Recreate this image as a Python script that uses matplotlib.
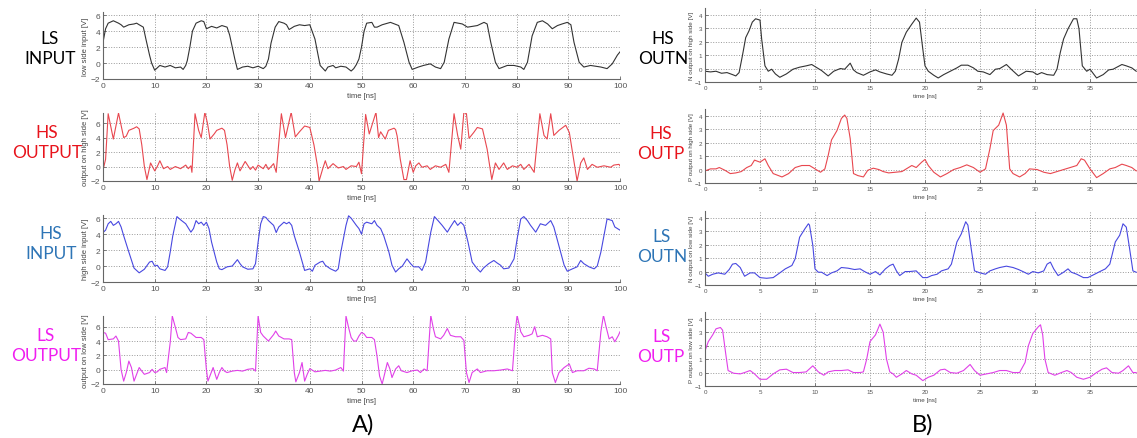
import matplotlib
matplotlib.use("Agg")
import matplotlib.pyplot as plt

plt.rcParams["font.family"] = "Liberation Sans"

# ---------------- datos ----------------
# panel A: 0..100 ns
ls_in_t = [0, 0.5, 1, 2, 3, 3.5, 4, 5, 6, 6.5, 7, 7.8, 8.3, 9, 9.4, 10, 10.5, 11, 12, 13, 14, 15, 15.5,
           16, 16.3, 16.8, 17.3, 18, 19, 19.5, 20, 21, 22, 23, 24, 24.5, 25, 25.5, 26, 27, 28, 29, 30,
           31, 31.5, 32, 32.5, 33.3, 34, 35, 35.5, 36, 37, 38, 39, 40, 41, 41.6, 42, 43, 43.5, 44.5,
           45, 46, 47, 48, 48.5, 49, 49.5, 50, 50.5, 51, 52, 52.5, 53, 54, 55.6, 57.2, 58.2, 59.2,
           59.8, 61, 62, 63.3, 64.3, 65.3, 66, 66.9, 67.9, 69.5, 70.5, 72.4, 73.7, 74.3, 75, 75.9,
           76.6, 78.2, 79.5, 80.8, 81.4, 82.1, 83, 84, 85, 86, 86.9, 87.9, 88.8, 89.8, 90.5, 91.1,
           92.1, 93, 94.3, 96.3, 97.5, 98.5, 99.5, 100]
ls_in_v = [2.6, 4.3, 5.0, 5.3, 5.0, 4.8, 4.5, 4.8, 4.9, 5.0, 4.8, 4.5, 3.0, 1.0, 0.0, -0.9, -0.6, -0.3,
           -0.5, -0.3, -0.6, -0.5, -0.8, -0.3, 0.3, 2.0, 4.0, 5.0, 5.3, 5.2, 4.3, 4.6, 4.4, 4.7, 4.5,
           3.5, 2.0, 0.5, -0.8, -0.5, -0.4, -0.6, -0.4, -0.7, -0.4, 0.5, 2.5, 4.5, 5.2, 5.0, 4.8, 4.2,
           4.6, 4.8, 4.7, 4.8, 3.0, 1.0, -0.3, -1.0, -0.5, -0.3, -0.6, -0.4, -0.5, -1.0, -0.7, -0.2,
           0.5, 2.0, 4.0, 5.0, 5.1, 4.5, 4.5, 4.8, 5.1, 4.7, 2.6, 0.1, -0.8, -0.5, -0.3, -0.1, -0.5,
           -0.7, 0.1, 3.0, 5.1, 4.9, 4.5, 4.7, 5.1, 4.9, 2.6, 0.1, -0.7, -0.3, -0.3, -0.5, -0.8, 0.1,
           3.4, 5.1, 5.3, 4.9, 4.3, 4.7, 4.9, 5.1, 4.8, 2.6, 0.1, -0.5, -0.3, -0.5, -0.7, -0.1, 1.0, 1.4]

hs_out_t = [0, 0.5, 1, 2, 3, 4, 4.5, 5, 6, 6.5, 7, 7.5, 8, 8.5, 9.2, 10, 10.5, 11, 11.7, 12.5, 13, 14,
            15, 16, 16.5, 17, 17.2, 17.8, 18.5, 19, 19.7, 20.2, 20.7, 21.5, 22, 23, 23.5, 24, 24.5, 25,
            25.5, 26, 26.5, 27.5, 28.5, 29, 29.5, 30, 31, 31.5, 32, 33, 33.5, 34.5, 35.3, 36.4, 37.2,
            38, 39, 40, 40.8, 41.5, 41.8, 42.5, 43, 43.5, 44.5, 45.5, 46.5, 47, 48, 49, 49.5, 50, 50.8,
            51.5, 52.8, 53.3, 53.7, 54.6, 55.2, 56.3, 56.6, 56.9, 57.5, 58.2, 58.7, 59.4, 60, 60.5,
            61.1, 61.7, 62.7, 63.3, 64.3, 65.3, 66.3, 66.9, 67.9, 68.6, 69.2, 69.8, 70.3, 70.8, 71.7,
            72.4, 73.4, 74.3, 75.2, 75.9, 76.6, 77.5, 78.2, 79.2, 80.1, 80.8, 81.4, 82.4, 83.4, 84.5,
            85.3, 85.9, 86.6, 87.2, 88.2, 89.5, 90.2, 90.8, 91.7, 92.4, 93, 93.7, 94.6, 95.6, 96.9,
            98.2, 98.8, 99.8, 100]
hs_out_v = [-0.5, 1.0, 7.3, 3.8, 7.4, 4.0, 4.2, 5.0, 5.3, 5.5, 5.2, 3.0, 0.0, -1.8, 0.5, -0.6, 0.0,
            0.8, -0.3, 0.0, -0.4, 0.0, -0.3, 0.2, -0.3, 0.1, -0.8, 7.3, 5.0, 4.0, 7.5, 6.0, 3.8, 4.5,
            5.0, 5.3, 5.0, 3.0, 0.0, -1.9, -0.5, 0.5, -0.6, 0.7, -0.4, 0.0, -0.5, 0.2, -0.3, 0.3, -0.4,
            0.4, -0.8, 7.3, 4.0, 7.5, 4.1, 4.8, 5.6, 5.4, 3.0, 0.0, -2.0, -0.3, 0.8, -0.3, 0.4, -0.2,
            0.0, -0.4, 0.1, 0.0, 0.6, -1.0, 7.2, 4.5, 7.5, 4.0, 4.8, 3.8, 5.0, 5.3, 5.1, 4.2, 1.0,
            -1.8, -1.8, 0.8, -0.8, 0.1, 0.5, -0.1, 0.1, -0.4, 0.1, -0.1, 0.3, -0.8, 7.3, 4.3, 2.4,
            7.5, 7.3, 3.9, 4.7, 5.4, 5.2, 2.4, -1.8, 0.5, -0.4, 0.5, -0.4, 0.1, -0.1, 0.3, -0.4, 0.3,
            -0.8, 7.3, 4.3, 3.8, 7.3, 4.3, 5.0, 5.7, 4.7, 2.0, -2.0, 0.5, 1.2, -0.4, 0.3, -0.1, 0.1,
            -0.1, 0.2, 0.3, 0.1]

hs_in_t = [0, 0.5, 1, 1.5, 2, 2.5, 3, 3.5, 4, 5, 6, 6.5, 7, 8, 9, 9.5, 10, 10.5, 11, 12, 12.5, 13,
           13.5, 14.3, 15, 16, 17, 17.5, 18, 18.5, 19, 19.5, 20, 20.5, 21, 22, 22.5, 23, 24, 25, 26,
           26.5, 27, 28, 29, 29.5, 30, 30.5, 31, 31.5, 32, 33, 33.5, 34, 35, 35.5, 36, 36.5, 37, 38,
           39, 40, 40.5, 41, 42, 42.5, 43, 44, 45, 45.5, 46, 47, 47.5, 48, 49, 49.5, 50, 50.5, 51,
           52, 52.5, 53, 53.7, 54.3, 55.3, 55.9, 56.6, 57.2, 57.9, 58.8, 59.5, 60.1, 61.1, 61.7,
           62.4, 63.4, 64.1, 64.8, 65.6, 66.6, 67.2, 68, 68.6, 69.2, 69.8, 70.6, 71.4, 72.4, 73,
           73.6, 74.6, 75.6, 76.2, 76.9, 77.5, 78.5, 79.5, 80.1, 80.8, 81.4, 82.1, 82.7, 83.7, 84.6,
           85.6, 86.6, 87.2, 88.2, 89.2, 89.8, 90.8, 91.7, 92.4, 93, 94, 95, 95.6, 96.3, 96.9, 97.5,
           98.5, 99, 100]
hs_in_v = [4.2, 4.5, 5.3, 5.6, 5.1, 5.3, 5.6, 4.9, 3.8, 1.75, -0.25, -0.55, -0.85, -0.4, 0.5, 0.6,
           0.0, 0.1, -0.35, -0.55, -0.1, 1.75, 3.8, 6.2, 5.8, 5.3, 4.25, 4.7, 5.7, 5.3, 5.5, 5.1, 5.5,
           4.7, 3.0, 0.5, -0.35, -0.45, -0.1, 0.0, 0.8, 0.3, -0.1, -0.4, -0.35, 0.3, 3.0, 5.3, 6.2,
           6.1, 5.7, 5.1, 4.2, 4.9, 5.5, 5.3, 5.5, 5.1, 3.8, 1.75, -0.55, -0.35, -0.65, 0.1, 0.5, 0.6,
           0.1, -0.35, -0.65, -0.35, 1.75, 5.1, 6.3, 6.0, 5.1, 4.7, 4.0, 5.3, 5.5, 5.3, 5.7, 5.1, 4.7,
           3.8, 1.75, 0.1, -0.75, -0.35, 0.0, 0.9, 0.3, -0.1, -0.1, -0.55, 0.5, 4.25, 6.2, 5.7, 5.1,
           4.25, 4.9, 5.7, 5.1, 5.5, 5.1, 3.0, 0.5, -0.35, -0.75, -0.25, 0.3, 0.7, 0.4, 0.1, -0.35,
           -0.25, 0.9, 3.4, 5.9, 6.2, 5.7, 5.1, 4.25, 5.3, 5.1, 5.7, 4.9, 2.5, 0.1, -0.65, -0.35,
           -0.1, 0.7, 0.3, -0.1, -0.35, 0.0, 1.75, 3.8, 5.9, 5.7, 4.9, 4.5]

ls_out_t = [0, 0.5, 1, 2, 2.5, 3, 3.5, 4, 4.5, 5, 5.5, 6, 6.5, 7, 7.5, 8, 9, 9.5, 10, 10.5, 11, 12,
            12.3, 13, 13.4, 14, 14.5, 15, 16, 16.5, 17, 18, 19, 19.5, 20, 20.3, 20.8, 21.3, 22, 22.5,
            23, 23.5, 24, 25, 26, 27, 28, 29, 29.5, 30, 30.5, 31, 32, 33, 33.4, 34, 35, 36, 36.5, 37,
            37.3, 38, 38.5, 39, 39.5, 40, 41, 42, 43, 44, 45, 46, 46.5, 47, 47.5, 48, 48.5, 49, 49.5,
            50, 50.5, 51, 52, 52.5, 53, 53.5, 54, 55, 55.5, 55.9, 56.6, 57.2, 57.7, 58.8, 59.8, 60.8,
            61.4, 62.1, 62.7, 63.4, 63.9, 64.3, 65.3, 65.9, 66.6, 67.2, 68.2, 69.2, 69.8, 70.3, 70.8,
            71.4, 72.4, 73, 74.3, 75.6, 76.9, 78.2, 79.2, 79.8, 80.1, 80.8, 81.4, 82.4, 83, 83.5, 84,
            85, 85.9, 86.6, 86.9, 87.5, 88.2, 89.2, 90.2, 90.8, 91.7, 93, 94, 95, 95.6, 96.3, 96.8,
            97.3, 97.9, 98.5, 99, 99.7, 100]
ls_out_v = [5.2, 5.1, 4.2, 4.3, 4.7, 4.0, 0.0, -1.6, -0.4, 1.2, 0.3, -1.6, -0.65, 0.3, -0.2, -0.65,
            -0.4, 0.05, -0.4, -0.3, 0.05, 0.3, -0.4, 3.8, 7.5, 5.9, 4.5, 4.2, 4.3, 5.2, 5.1, 4.5, 4.5,
            4.2, 0.0, -1.6, -0.65, 0.3, -1.35, -0.4, 0.3, -0.2, -0.4, -0.2, -0.1, -0.2, 0.05, 0.15,
            -0.2, 7.5, 5.2, 4.7, 4.0, 4.9, 5.4, 4.7, 4.3, 4.3, 4.2, -0.4, -1.7, -0.4, 1.0, -1.6, -0.65,
            0.15, -0.3, -0.2, -0.1, -0.2, -0.05, 0.3, -0.2, 7.5, 5.9, 4.5, 4.0, 4.0, 4.7, 5.2, 5.0,
            4.5, 4.5, 4.2, 1.9, -0.9, -2.0, 1.0, 0.1, -1.1, 0.1, 0.55, -0.15, -0.4, -0.15, -0.05, -0.4,
            0.1, -0.15, 7.6, 5.75, 4.6, 4.3, 4.8, 5.75, 4.8, 4.6, 4.6, 4.1, -0.4, -1.8, -0.4, 0.1,
            -0.4, -0.15, -0.15, -0.05, 0.1, -0.15, 5.75, 7.6, 5.3, 4.6, 4.8, 5.0, 6.0, 4.6, 4.8, 4.6,
            4.3, -0.4, -1.8, -0.4, 0.3, 0.8, -0.4, -0.15, -0.15, 0.2, 0.1, -0.15, 5.3, 7.6, 6.0, 4.3,
            4.6, 3.9, 4.8, 5.3]

# panel B: 0..40 ns
hs_outn_t = [0, 0.5, 1, 1.5, 2, 2.5, 2.8, 3.1, 3.4, 3.7, 4, 4.3, 4.6, 5, 5.15, 5.45, 5.75, 6.06, 6.4,
             6.8, 7.4, 8, 8.6, 9.2, 9.7, 10.2, 10.6, 11.2, 11.7, 12.3, 12.7, 13.2, 13.5, 13.8, 14.4,
             15, 15.5, 15.9, 16.5, 17, 17.3, 17.6, 17.9, 18.3, 18.8, 19.2, 19.5, 19.8, 20, 20.3,
             20.8, 21.2, 21.7, 22.3, 22.9, 23.3, 23.9, 24.4, 24.8, 25.3, 25.9, 26.4, 26.8, 27.4,
             27.9, 28.5, 28.9, 29.2, 29.8, 30.2, 30.6, 31.1, 31.7, 32, 32.3, 32.6, 33, 33.5, 33.8,
             34, 34.3, 34.7, 35, 35.6, 36.2, 36.7, 37.1, 37.9, 38.3, 38.8, 39.2]
hs_outn_v = [-0.2, -0.25, -0.2, -0.35, -0.3, -0.45, -0.55, -0.3, 0.95, 2.3, 2.8, 3.45, 3.7, 3.6,
             2.2, 0.2, -0.2, -0.05, -0.4, -0.65, -0.4, -0.05, 0.1, 0.2, 0.3, 0.05, -0.15, -0.55,
             -0.2, 0.0, -0.05, 0.4, -0.1, -0.3, -0.5, -0.25, -0.1, -0.25, -0.4, -0.5, -0.2, 0.7,
             1.95, 2.7, 3.3, 3.75, 3.45, 1.45, 0.2, -0.2, -0.5, -0.7, -0.45, -0.2, 0.05, 0.25, 0.25,
             0.05, -0.2, -0.25, -0.45, -0.05, 0.0, 0.3, -0.1, -0.55, -0.35, -0.2, -0.25, -0.45,
             -0.3, -0.45, -0.5, -0.05, 1.2, 2.2, 2.95, 3.7, 3.7, 2.95, 0.2, -0.2, -0.05, -0.7, -0.45,
             -0.1, -0.05, 0.3, 0.2, 0.05, -0.2]

hs_outp_t = [0, 0.5, 1, 1.3, 1.8, 2.3, 2.8, 3.3, 3.8, 4.2, 4.5, 5, 5.45, 5.75, 6.2, 7, 7.6, 8.2, 8.8,
             9.5, 10, 10.5, 10.9, 11.2, 11.5, 12, 12.4, 12.7, 12.9, 13.2, 13.5, 13.9, 14.4, 14.8,
             15.3, 15.8, 16.2, 16.7, 17.3, 17.9, 18.3, 18.8, 19.2, 19.7, 20, 20.3, 20.8, 21.4, 22,
             22.6, 23.2, 23.8, 24.4, 25, 25.5, 25.9, 26.2, 26.7, 27.1, 27.4, 27.7, 28, 28.6, 29.1,
             29.5, 30.2, 30.8, 31.4, 32, 32.6, 33.2, 33.8, 34.2, 34.5, 35, 35.6, 36.2, 36.8, 37.3,
             37.9, 38.3, 38.8, 39.2]
hs_outp_v = [-0.1, 0.05, 0.05, 0.15, -0.05, -0.3, -0.25, -0.15, 0.15, 0.3, 0.7, 0.55, 0.8, 0.3,
             -0.3, -0.55, -0.3, 0.15, 0.3, 0.3, 0.05, -0.2, 0.05, 1.05, 2.2, 2.9, 3.8, 4.05, 3.8,
             2.3, -0.3, -0.45, -0.55, -0.05, 0.1, 0.0, -0.15, -0.25, -0.2, -0.15, 0.05, 0.3, 0.15,
             0.55, 0.75, 0.3, -0.2, -0.55, -0.3, 0.0, 0.15, 0.35, 0.15, -0.2, 0.05, 1.55, 2.9, 3.3,
             4.2, 3.3, 0.05, -0.3, -0.55, -0.3, 0.05, 0.0, -0.2, -0.3, -0.15, 0.0, 0.15, 0.3, 0.8,
             0.7, 0.05, -0.6, -0.3, 0.05, 0.15, 0.4, 0.3, 0.15, -0.1]

ls_outn_t = [0, 0.3, 0.7, 1.2, 1.8, 2.2, 2.5, 2.8, 3.2, 3.6, 4.1, 4.5, 5, 5.6, 6.2, 6.8, 7.3, 7.9,
             8.2, 8.6, 9.1, 9.4, 9.5, 9.8, 10, 10.3, 10.6, 11.1, 11.5, 12, 12.4, 13, 13.6, 14.1,
             14.5, 15, 15.5, 15.9, 16.4, 16.8, 17.1, 17.4, 17.7, 18.2, 18.6, 19.2, 19.5, 19.8, 20.2,
             20.6, 21.1, 21.5, 22.1, 22.4, 22.9, 23.3, 23.7, 23.9, 24.2, 24.5, 25, 25.5, 25.9, 26.4,
             26.8, 27.4, 28, 28.5, 28.9, 29.4, 29.8, 30.3, 30.8, 31.1, 31.4, 31.7, 32.1, 32.6, 33,
             33.3, 33.8, 34.4, 34.8, 35.3, 35.9, 36.4, 36.8, 37.3, 37.7, 38, 38.3, 38.6, 38.9, 39.2]
ls_outn_v = [-0.1, -0.35, -0.2, -0.1, -0.2, 0.15, 0.55, 0.6, 0.3, -0.35, -0.1, -0.1, -0.45, -0.5,
             -0.45, -0.1, 0.2, 0.45, 0.95, 2.55, 3.2, 3.55, 3.45, 1.95, 0.2, -0.05, -0.05, -0.3,
             -0.1, 0.05, 0.3, 0.25, 0.15, 0.2, 0.0, -0.2, 0.0, -0.25, 0.2, 0.45, 0.55, 0.05, -0.3,
             0.0, 0.0, 0.05, -0.2, -0.45, -0.45, -0.3, -0.2, 0.05, 0.2, 0.55, 2.2, 2.8, 3.7, 3.45,
             1.7, 0.05, -0.1, -0.2, 0.05, 0.2, 0.3, 0.4, 0.3, 0.15, 0.0, -0.2, 0.0, -0.1, 0.05, 0.55,
             0.7, 0.2, -0.3, -0.05, 0.2, -0.05, -0.2, -0.45, -0.45, -0.25, 0.0, 0.2, 0.55, 2.2, 2.7,
             3.55, 3.3, 1.7, 0.05, -0.05]

ls_outp_t = [0, 0.3, 0.7, 1, 1.4, 1.6, 1.9, 2.1, 2.6, 3.2, 3.6, 4.1, 4.5, 5, 5.6, 6.2, 6.8, 7.4, 8,
             8.6, 9.2, 9.8, 10.3, 10.8, 11.2, 11.8, 12.4, 13, 13.5, 14.1, 14.4, 14.7, 15, 15.5, 15.8,
             15.9, 16.2, 16.5, 16.8, 17.1, 17.4, 17.9, 18.3, 18.8, 19.2, 19.8, 20.3, 20.8, 21.4,
             21.8, 22.3, 22.9, 23.5, 24.1, 24.5, 25, 25.6, 26.2, 26.8, 27.4, 28, 28.6, 29.1, 29.4,
             29.8, 30.3, 30.5, 30.7, 30.9, 31.2, 31.8, 32.4, 32.9, 33.3, 33.8, 34.4, 35, 35.6, 36.1,
             36.5, 37, 37.6, 38, 38.5, 38.9, 39.2]
ls_outp_v = [1.6, 2.3, 2.8, 3.25, 3.35, 3.15, 1.3, 0.15, -0.05, -0.1, 0.0, 0.15, -0.1, -0.5, -0.5,
             -0.1, 0.2, 0.25, 0.0, 0.0, 0.05, 0.5, 0.05, -0.2, 0.05, 0.15, 0.15, 0.2, 0.0, 0.0, 0.05,
             1.0, 2.3, 2.8, 3.4, 3.6, 3.0, 1.0, 0.05, -0.1, -0.35, -0.1, 0.15, -0.1, -0.2, -0.6,
             -0.35, -0.2, 0.2, 0.25, 0.0, -0.05, 0.15, 0.6, 0.15, -0.2, -0.1, 0.0, 0.15, 0.15, 0.0,
             0.0, 0.75, 2.0, 2.9, 3.4, 3.55, 2.8, 1.0, 0.0, -0.2, 0.0, 0.15, 0.0, -0.35, -0.5, -0.35,
             0.0, 0.25, 0.35, 0.0, -0.05, 0.15, 0.5, 0.0, 0.0]

# ---------------- figura ----------------
W, H = 1137, 439
fig = plt.figure(figsize=(W / 100, H / 100), dpi=100)

def caja(x0, x1, top, bottom):
    # pixeles -> coordenadas de figura
    return [x0 / W, 1 - bottom / H, (x1 - x0) / W, (bottom - top) / H]

def preparar(ax, xlim, ylim, xticks, yticks, ylabel, fs_tick, fs_lab):
    ax.set_xlim(xlim)
    ax.set_ylim(ylim)
    ax.set_xticks(xticks)
    ax.set_yticks(yticks)
    ax.grid(True, linestyle=':', color='#999999', linewidth=0.7)
    for s in ['top', 'right']:
        ax.spines[s].set_visible(False)
    for s in ['left', 'bottom']:
        ax.spines[s].set_color('#666666')
        ax.spines[s].set_linewidth(0.8)
    ax.tick_params(direction='in', length=2, width=0.6, colors='#666666',
                   labelsize=fs_tick, labelcolor='#555555', pad=2)
    ax.set_xlabel('time [ns]', fontsize=fs_lab, color='#444444', labelpad=2)
    ax.set_ylabel(ylabel, fontsize=fs_lab, color='#444444', labelpad=1)

col_negro = '#333333'
col_rojo = '#e8474f'
col_azul = '#4848e0'
col_mag = '#e040e8'

# panel A
filas_A = [(13, 80, (-2, 6.4), ls_in_t, ls_in_v, col_negro, 'low side input [V]'),
           (114, 182, (-2, 7.4), hs_out_t, hs_out_v, col_rojo, 'output on high side [V]'),
           (216, 283, (-2, 6.4), hs_in_t, hs_in_v, col_azul, 'high side input [V]'),
           (317, 385, (-2, 7.5), ls_out_t, ls_out_v, col_mag, 'output on low side [V]')]
for top, bot, yl, t, v, c, lab in filas_A:
    ax = fig.add_axes(caja(103, 620, top, bot))
    ax.plot(t, v, color=c, linewidth=0.8)
    preparar(ax, (0, 100), yl, range(0, 101, 10), [-2, 0, 2, 4, 6], lab, 6, 5.5)

# panel B (el eje llega a 40 pero la imagen se corta antes)
filas_B = [(9, 83, hs_outn_t, hs_outn_v, col_negro, 'N output on high side [V]'),
           (110, 184, hs_outp_t, hs_outp_v, col_rojo, 'P output on high side [V]'),
           (212, 286, ls_outn_t, ls_outn_v, col_azul, 'N output on low side [V]'),
           (313, 387, ls_outp_t, ls_outp_v, col_mag, 'P output on low side [V]')]
for top, bot, t, v, c, lab in filas_B:
    ax = fig.add_axes(caja(705, 1145, top, bot))
    ax.plot(t, v, color=c, linewidth=0.8)
    preparar(ax, (0, 40), (-1, 4.5), range(0, 41, 5), [-1, 0, 1, 2, 3, 4], lab, 4.5, 4.5)

# etiquetas grandes
etiquetas = [(50, 49, 'LS\nINPUT', 'black'), (47, 143, 'HS\nOUTPUT', '#e8141c'),
             (51, 244, 'HS\nINPUT', '#2e75b6'), (46, 346, 'LS\nOUTPUT', '#f01ef0'),
             (663, 49, 'HS\nOUTN', 'black'), (661, 144, 'HS\nOUTP', '#e8141c'),
             (662, 247, 'LS\nOUTN', '#2e75b6'), (661, 347, 'LS\nOUTP', '#f01ef0')]
for x, y, txt, c in etiquetas:
    fig.text(x / W, 1 - y / H, txt, color=c, fontsize=12.5, family='Lato',
             ha='center', va='center', linespacing=1.25)

fig.text(363 / W, 1 - 425 / H, 'A)', fontsize=17, family='Lato', ha='center', va='center')
fig.text(923 / W, 1 - 425 / H, 'B)', fontsize=17, family='Lato', ha='center', va='center')

plt.savefig('out.png', dpi=100)
